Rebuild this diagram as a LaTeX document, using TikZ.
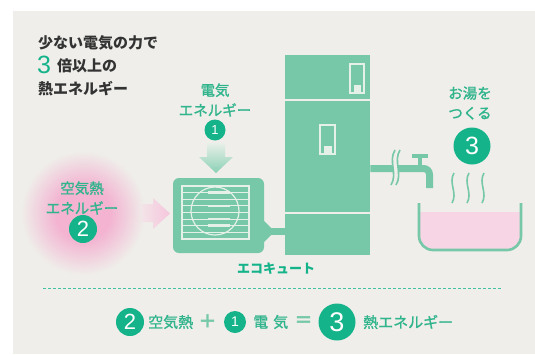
\documentclass[tikz,border=0pt]{standalone}
\usepackage{fontspec}
\newfontfamily\jp{Noto Sans CJK JP}
\newfontfamily\jpm[FakeBold=1.2]{Noto Sans CJK JP}
\newfontfamily\digits{Liberation Sans}
\usetikzlibrary{positioning}
\definecolor{bggray}{HTML}{EFEEEA}
\definecolor{mint}{HTML}{76C8A9}
\definecolor{deepgreen}{HTML}{14B38A}
\definecolor{labelgreen}{HTML}{2FB48C}
\definecolor{pale}{HTML}{E4F0E8}
\definecolor{glowpink}{HTML}{F3B3D1}
\definecolor{waterpink}{HTML}{F8D5E4}
\definecolor{ink}{HTML}{333333}
\pgfdeclareradialshading{glow}{\pgfpointorigin}{color(0bp)=(glowpink); color(11bp)=(glowpink); color(25bp)=(bggray); color(50bp)=(bggray)}
\tikzset{num/.style={circle,fill=deepgreen,text=white,inner sep=0pt},greentext/.style={align=center,text=labelgreen,font=\jpm\fontsize{14.5}{20}\selectfont},block/.style={fill=mint,inner sep=0pt},pipe/.style={draw=mint,line width=7pt},grill/.style={draw=pale,line width=1.2pt},wave/.style={draw=mint,line width=1.6pt},eq/.style={anchor=west,inner sep=0pt,text=labelgreen,font=\jpm\fontsize{15}{15}\selectfont},sign/.style={inner sep=0pt,text=mint,font=\jp\bfseries\fontsize{19}{19}\selectfont}}

\begin{document}
\begin{tikzpicture}[x=1pt,y=-1pt]
\useasboundingbox (0,0) rectangle (535,354);
\fill[white] (0,0) rectangle (535,354);
\fill[bggray] (13,11) rectangle (535,354);

\node[anchor=west,inner sep=0pt,text=ink,font=\jp\bfseries\fontsize{15}{15}\selectfont] (title1) at (38,43) {少ない電気の力で};
\node[anchor=west,inner sep=0pt,text=deepgreen,font=\digits\fontsize{25}{25}\selectfont] (bigthree) at (37,65) {3};
\node[anchor=west,inner sep=0pt,text=ink,font=\jp\bfseries\fontsize{15}{15}\selectfont] (title2) at (57,66) {倍以上の};
\node[anchor=west,inner sep=0pt,text=ink,font=\jp\bfseries\fontsize{15}{15}\selectfont] (title3) at (38,89) {熱エネルギー};

\shade[shading=glow] (83,213) circle[radius=62pt];
\node[greentext] (airlabel) at (82,198) {空気熱\\エネルギー};
\node[num,minimum size=28pt,font=\digits\fontsize{22}{22}\selectfont] (two) at (83,229) {2};
\shade[left color=waterpink!45!bggray,right color=glowpink!75!white] (142,204) -- (153,204) -- (153,198) -- (170,213.5) -- (153,229) -- (153,222) -- (142,222) -- cycle;

\node[greentext] (eleclabel) at (215,100) {電気\\エネルギー};
\node[num,minimum size=21pt,font=\digits\fontsize{13}{13}\selectfont] (one) at (215,130) {1};
\shade[top color=pale!60!bggray,bottom color=mint!85] (207,143) -- (225,143) -- (225,157) -- (233,157) -- (216,173) -- (199,157) -- (207,157) -- cycle;

\node[block,rounded corners=6pt,minimum width=91pt,minimum height=75pt] (unit) at (218.5,215.5) {};
\draw[grill] (182,186) rectangle (249,239);
\foreach \k in {1,...,7} \draw[grill] (182,186+\k*6.625) -- (249,186+\k*6.625);
\draw[grill] (215,211) circle[radius=24pt];
\foreach \k in {1,3,5,6} \draw[pale,line width=2.6pt] (208,186+\k*6.625) -- (230,186+\k*6.625);

\node[block,minimum width=85pt,minimum height=43.5pt,anchor=north west] (tanktop) at (285,55) {};
\node[block,minimum width=85pt,minimum height=110.5pt,below=2pt of tanktop] (tankmid) {};
\node[block,minimum width=85pt,minimum height=41pt,below=2pt of tankmid] (tankbot) {};
\draw[grill] (350,64) rectangle (364,93);
\fill[pale] (353.5,85) rectangle (360.5,93);
\draw[grill] (320,125) rectangle (335,154);
\fill[pale] (323.5,146) rectangle (331.5,154);

\fill[mint] (unit.east |- 0,221) -- (271,228) -- (271,235) -- (unit.east |- 0,242) -- cycle;
\draw[pipe] (unit.east |- 0,231.5) -- (tankbot.west |- 0,231.5);
\node[font=\jp\bfseries\fontsize{13}{13}\selectfont,text=deepgreen,inner sep=0pt] (ecolabel) at (276,269) {エコキュート};

\coordinate (spout) at (429.5,188);
\draw[pipe,rounded corners=6pt] (tankmid.east |- 0,168.5) -| (spout);
\draw[bggray,line width=4.5pt] (397.5,150) .. controls (390.5,161) and (400.5,174) .. (393.5,185);
\foreach \x in {393,398} \draw[wave] (\x+2,150) .. controls (\x-5,161) and (\x+5,174) .. (\x-2,185);
\fill[mint] (412,154) rectangle (428,158);
\fill[mint] (418,158) rectangle (422,166);

\node[greentext] (hotlabel) at (470,103) {お湯を\\つくる};
\node[num,minimum size=37pt,font=\digits\fontsize{25}{25}\selectfont] (three) at (472,146) {3};
\foreach \x in {453,468,483} \draw[wave] (\x+1,173) .. controls (\x-5,183) and (\x+5,193) .. (\x-1,203);
\begin{scope}
\clip (419,212) rectangle (521,252);
\fill[waterpink,rounded corners=14pt] (419,190) rectangle (521,250);
\end{scope}
\draw[mint,line width=2.6pt,rounded corners=14pt] (419,203) -- (419,250) -- (521,250) -- (521,203);

\draw[deepgreen!80,dash pattern=on 3pt off 2pt,line width=0.8pt] (43,288) -- (502,288);

\node[num,minimum size=28pt,font=\digits\fontsize{22}{22}\selectfont] (eqtwo) at (130,322) {2};
\node[eq] (eqair) at (148,322) {空気熱};
\node[sign] (plus) at (208,322) {＋};
\node[num,minimum size=22pt,font=\digits\fontsize{14}{14}\selectfont] (eqone) at (235,322) {1};
\node[eq] (eqelec) at (253,322) {電\hspace{5pt}気};
\node[sign] (equals) at (304,322) {＝};
\node[num,minimum size=37pt,font=\digits\fontsize{27}{27}\selectfont] (eqthree) at (337,322) {3};
\node[eq] (eqheat) at (363,322) {熱エネルギー};
\end{tikzpicture}
\end{document}
